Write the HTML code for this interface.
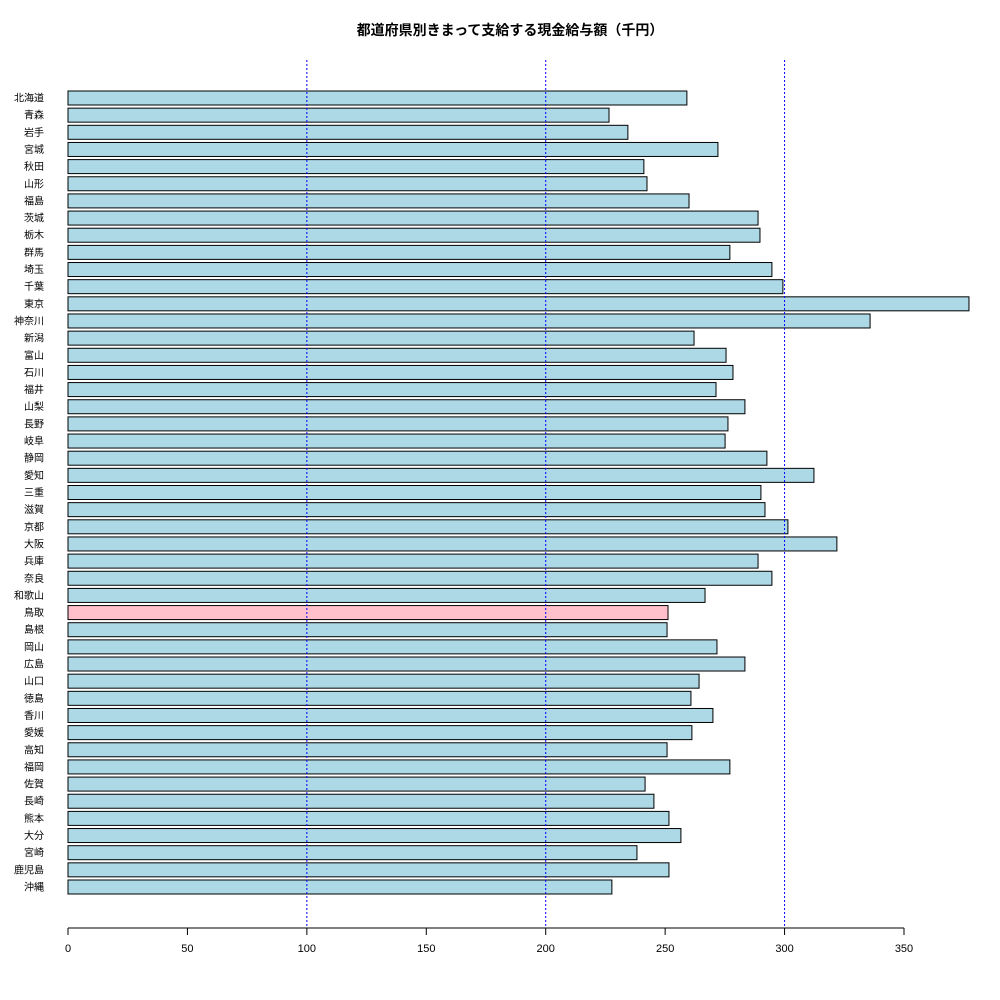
<!DOCTYPE html>
<html><head><meta charset="utf-8">
<style>
html,body{margin:0;padding:0;background:#fff;}
svg{display:block;font-family:"Liberation Sans","Noto Sans CJK JP",sans-serif;}
</style></head>
<body>
<svg id="chart" width="1000" height="1000" xmlns="http://www.w3.org/2000/svg">
<text x="510" y="35" text-anchor="middle" font-size="14" font-weight="bold">都道府県別きまって支給する現金給与額（千円）</text>
</svg>
<script>
const categories=["北海道","青森","岩手","宮城","秋田","山形","福島","茨城","栃木","群馬","埼玉","千葉","東京","神奈川","新潟","富山","石川","福井","山梨","長野","岐阜","静岡","愛知","三重","滋賀","京都","大阪","兵庫","奈良","和歌山","鳥取","島根","岡山","広島","山口","徳島","香川","愛媛","高知","福岡","佐賀","長崎","熊本","大分","宮崎","鹿児島","沖縄"];
const values=[259.1,226.5,234.4,272.1,241.1,242.4,260.0,288.9,289.7,277.1,294.7,299.3,377.2,335.8,262.1,275.5,278.4,271.3,283.4,276.3,275.1,292.6,312.3,290.1,291.8,301.4,321.9,288.9,294.7,266.7,251.2,250.8,271.7,283.4,264.2,260.8,270.0,261.2,250.8,277.1,241.6,245.3,251.6,256.6,238.2,251.6,227.7];
const highlight="鳥取";
const xTicks=[0,50,100,150,200,250,300,350];
const gridLines=[100,200,300];

const NS="http://www.w3.org/2000/svg";
const svg=document.getElementById('chart');
const x0=68,x1=904,xmax=350;
const xs=v=>x0+v*(x1-x0)/xmax;
const yTop=98,yBot=887;
const ys=i=>yTop+i*(yBot-yTop)/(categories.length-1);
const bh=14;
function mk(t,a){const e=document.createElementNS(NS,t);for(const k in a)e.setAttribute(k,a[k]);svg.appendChild(e);return e;}

categories.forEach((c,i)=>{
  const r=mk('rect',{x:xs(0),y:ys(i)-bh/2,width:xs(values[i])-xs(0),height:bh,fill:c===highlight?'#ffc0cb':'#add8e6',stroke:'#000','stroke-width':1});
  
  
  const t=mk('text',{x:44,y:ys(i)+3.5,'text-anchor':'end','font-size':10});
  t.textContent=c;
  
  
});
gridLines.forEach(g=>{
  const l=mk('line',{x1:xs(g),x2:xs(g),y1:60,y2:928,stroke:'#0000ff','stroke-width':1,'stroke-dasharray':'2,2'});
  
  
});
const ax=mk('line',{x1:xs(0),x2:xs(350),y1:928,y2:928,stroke:'#000'});


xTicks.forEach(v=>{
  const tk=mk('line',{x1:xs(v),x2:xs(v),y1:928,y2:935,stroke:'#000'});
  
  
  const tl=mk('text',{x:xs(v),y:952,'text-anchor':'middle','font-size':11});
  tl.textContent=v;
  
  
});
</script>
</body></html>
